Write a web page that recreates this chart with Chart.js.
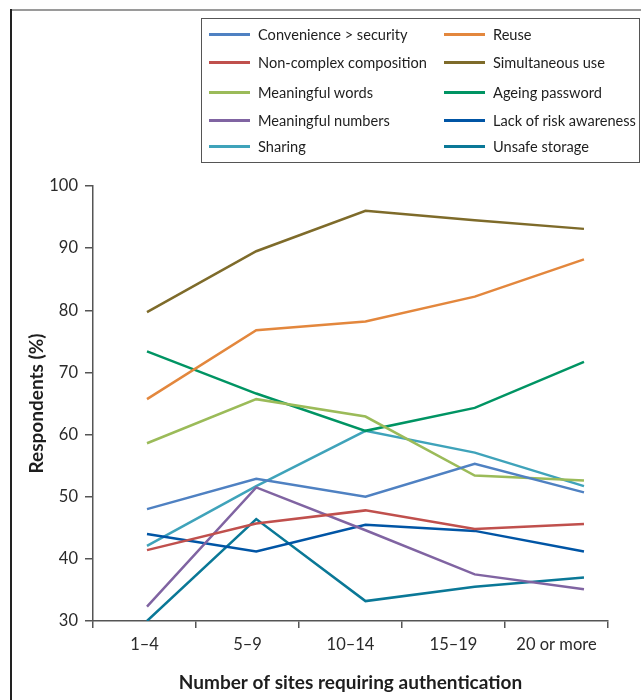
<!DOCTYPE html>
<html><head><meta charset="utf-8">
<script src="https://cdn.jsdelivr.net/npm/chart.js@4"></script>
<style>
html,body{margin:0;padding:0;background:#fff;}
#wrap{position:relative;width:641px;height:700px;overflow:hidden;}
#c{position:absolute;left:0;top:0;}
.frameTop{position:absolute;left:10px;top:9px;width:631px;height:2px;background:#9a9a9a;}
.frameLeft{position:absolute;left:10px;top:9px;width:2px;height:691px;background:#222;}
#legend{position:absolute;left:201px;top:18px;width:439px;height:145px;border:1px solid #555;box-sizing:border-box;font-family:Lato,sans-serif;font-size:14.6px;color:#1e1e1e;}
.item{position:absolute;height:20px;display:flex;align-items:center;white-space:nowrap;}
.swatch{width:41px;height:3px;margin-right:8px;flex:none;}
</style></head>
<body>
<div id="wrap">
<canvas id="c" width="641" height="700"></canvas>
<div class="frameTop"></div>
<div class="frameLeft"></div>
<div id="legend"></div>
</div>
<script>
const categories = ['1–4', '5–9', '10–14', '15–19', '20 or more'];
const yTicks = [30, 40, 50, 60, 70, 80, 90, 100];

const seriesNames = [
  'Convenience > security', 'Reuse',
  'Non-complex composition', 'Simultaneous use',
  'Meaningful words', 'Ageing password',
  'Meaningful numbers', 'Lack of risk awareness',
  'Sharing', 'Unsafe storage'
];
const convenience   = [48.0, 52.9, 50.0, 55.3, 50.7];
const reuse         = [65.7, 76.8, 78.2, 82.2, 88.2];
const nonComplex    = [41.4, 45.7, 47.8, 44.8, 45.6];
const simultaneous  = [79.7, 89.5, 96.0, 94.5, 93.1];
const meanWords     = [58.6, 65.7, 62.9, 53.4, 52.6];
const ageing        = [73.4, 66.6, 60.6, 64.3, 71.7];
const meanNumbers   = [32.3, 51.5, 44.6, 37.5, 35.1];
const lackRisk      = [44.0, 41.2, 45.5, 44.5, 41.2];
const sharing       = [42.1, 51.7, 60.6, 57.1, 51.7];
const unsafeStorage = [30.0, 46.4, 33.2, 35.5, 37.0];

const seriesValues = [convenience, reuse, nonComplex, simultaneous, meanWords,
  ageing, meanNumbers, lackRisk, sharing, unsafeStorage];
const seriesColors = ['#4f81c2', '#e3873d', '#c0504d', '#7e6b2a', '#9bbb59',
  '#009463', '#8064a2', '#0055a5', '#3fa3ba', '#0a7897'];

const datasets = seriesNames.map((name, i) => ({
  label: name,
  data: seriesValues[i].map((v, j) => ({x: j, y: v})),
  borderColor: seriesColors[i],
  backgroundColor: seriesColors[i],
  borderWidth: 2.5,
  pointRadius: 0,
  tension: 0,
  fill: false,
  xAxisID: 'xd'
}));

const FONT = 'Lato, sans-serif';

new Chart(document.getElementById('c'), {
  type: 'line',
  data: {labels: categories, datasets},
  options: {
    responsive: false,
    animation: false,
    devicePixelRatio: 1,
    layout: {padding: {left: 0, top: 186, right: 33, bottom: 0}},
    plugins: {legend: {display: false}, tooltip: {enabled: false}},
    scales: {
      x: {
        type: 'category',
        position: 'bottom',
        offset: true,
        grid: {display: true, drawOnChartArea: false, drawTicks: true, tickLength: 7, color: '#555', lineWidth: 1.5, offset: true},
        border: {display: true, color: '#555', width: 1.5},
        ticks: {font: {family: FONT, size: 16.5}, color: '#2a2a2a', padding: 7, maxRotation: 0},
        title: {display: true, text: 'Number of sites requiring authentication', font: {family: FONT, size: 19, weight: 'bold'}, color: '#1e1e1e', padding: {top: 0, bottom: 5.5}},
        afterFit: s => { s.height = 79; }
      },
      xd: {
        type: 'linear',
        position: 'bottom',
        display: false,
        min: -0.4943,
        max: 4.2199
      },
      y: {
        min: 30, max: 100,
        afterBuildTicks: s => { s.ticks = yTicks.map(v => ({value: v})); },
        grid: {display: true, drawOnChartArea: false, drawTicks: true, tickLength: 8, color: '#555', lineWidth: 1.5},
        border: {display: true, color: '#555', width: 1.5},
        ticks: {font: {family: FONT, size: 16.5}, color: '#2a2a2a', padding: 7},
        title: {display: true, text: 'Respondents (%)', font: {family: FONT, size: 19, weight: 'bold'}, color: '#1e1e1e', padding: {top: 25.5, bottom: 0}},
        afterFit: s => { s.width = 93; }
      }
    }
  }
});

// HTML legend built from the datasets
const legend = document.getElementById('legend');
const rowCenters = [15.5, 43.5, 73, 101.5, 127.5];
const colLefts = [7, 242];
seriesNames.forEach((name, i) => {
  const row = Math.floor(i / 2), col = i % 2;
  const it = document.createElement('div');
  it.className = 'item';
  it.style.left = colLefts[col] + 'px';
  it.style.top = (rowCenters[row] - 10) + 'px';
  const sw = document.createElement('span');
  sw.className = 'swatch';
  sw.style.background = seriesColors[i];
  const tx = document.createElement('span');
  tx.textContent = name;
  it.appendChild(sw); it.appendChild(tx);
  legend.appendChild(it);
});
</script>
</body></html>
